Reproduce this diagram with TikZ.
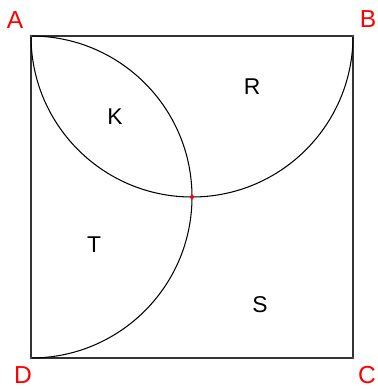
\documentclass[tikz,border=0pt]{standalone}
\usepackage{fontspec}
\setmainfont{Liberation Sans}
\usepackage{xcolor}
\usetikzlibrary{arrows.meta,positioning}

\begin{document}
\begin{tikzpicture}[
  x=0.02cm, y=0.02cm,
  side/.style={draw=black!80, line width=0.8pt},
  bow/.style={draw=black, line width=0.6pt},
  crn/.style={fill=black!70},
  vlbl/.style={text=red, font=\fontsize{14}{16}\selectfont, inner sep=0pt},
  rlbl/.style={text=black, font=\fontsize{13}{15}\selectfont, inner sep=0pt}
]
  \useasboundingbox (0,0) rectangle (378,389);
  % corners of the square
  \coordinate (A) at (31,353);
  \coordinate (B) at (353,353);
  \coordinate (C) at (353,31);
  \coordinate (D) at (31,31);
  \coordinate (O) at (192,192);

  \draw[side] (A) -- (B) -- (C) -- (D) -- cycle;
  % two half circles
  \draw[bow] (A) arc[start angle=180, end angle=360, radius=161];
  \draw[bow] (A) arc[start angle=90, end angle=-90, radius=161];

  \foreach \p in {A,B,C,D}
    \fill[crn] (\p) circle[radius=1.3];
  \fill[red] (O) circle[radius=2];

  % vertex names
  \node[vlbl] (nA) at (15,369) {A};
  \node[vlbl] (nB) at (368,370) {B};
  \node[vlbl] (nC) at (367,14) {C};
  \node[vlbl] (nD) at (23,14) {D};
  % regions
  \node[rlbl] (K) at (115,272) {K};
  \node[rlbl] (R) at (252,302) {R};
  \node[rlbl] (T) at (94,144) {T};
  \node[rlbl] (S) at (260,84) {S};
\end{tikzpicture}
\end{document}
